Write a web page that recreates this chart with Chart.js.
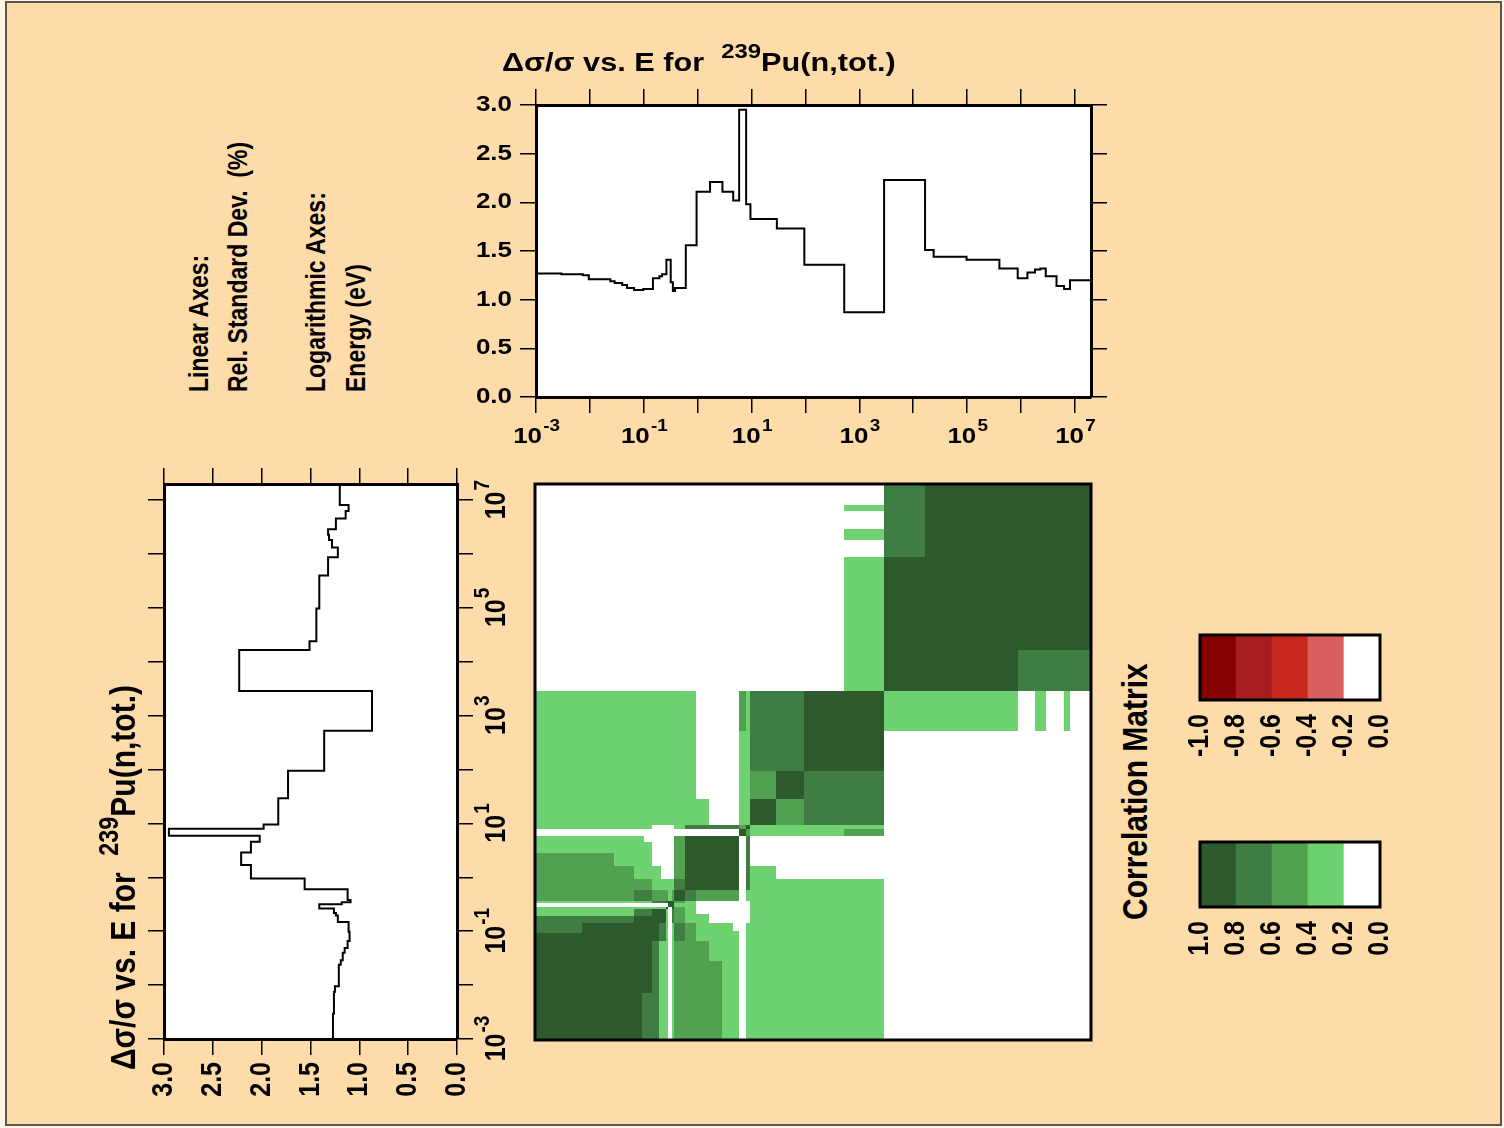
<!DOCTYPE html>
<html>
<head>
<meta charset="utf-8">
<script src="https://cdn.jsdelivr.net/npm/chart.js@4.4.1/dist/chart.umd.min.js"></script>
<style>
  html, body { margin: 0; padding: 0; }
  body { width: 1504px; height: 1128px; background: #fdf4e6; position: relative; overflow: hidden;
         font-family: "Liberation Sans", Arial, sans-serif; }
  #frame { position: absolute; left: 5px; top: 1px; width: 1493px; height: 1121px;
           border: 2px solid #5c5650; background: #fddcaa; }
  canvas { position: absolute; }
  .txt { position: absolute; white-space: nowrap; color: #000; line-height: 1; transform-origin: 0 0; }
  .sup { font-size: 0.78em; position: relative; top: -0.65em; }
</style>
</head>
<body>
<div id="frame"></div>
<canvas id="topChart" width="680" height="400" style="left:440px; top:70px;"></canvas>
<canvas id="sideChart" width="460" height="670" style="left:80px; top:450px;"></canvas>
<canvas id="corrChart" width="576" height="576" style="left:525px; top:474px;"></canvas>
<canvas id="redBar" width="220" height="150" style="left:1180px; top:625px;"></canvas>
<canvas id="greenBar" width="220" height="150" style="left:1180px; top:832px;"></canvas>
<script>
// lettering in the reference is stretched sideways
const SX = 1.18;
const FONT = '"Liberation Sans", Arial, sans-serif';

// energy group boundaries, log10(E / eV)
const groupEdgeExp = [-3.00, -2.53, -2.13, -2.02, -1.62, -1.54, -1.40, -1.31, -1.18, -1.01,
  -0.83, -0.71, -0.66, -0.58, -0.50, -0.46, -0.42, -0.22, -0.02, 0.23,
  0.46, 0.66, 0.77, 0.90, 0.98, 1.47, 1.98, 2.72, 3.46, 4.22,
  4.38, 4.99, 5.60, 5.94, 6.12, 6.26, 6.36, 6.46, 6.66, 6.80,
  6.91, 7.30];
// relative standard deviation (%) in each group
const relStdDev = [1.27, 1.26, 1.25, 1.21, 1.19, 1.17, 1.15, 1.12, 1.10, 1.11,
  1.22, 1.24, 1.26, 1.41, 1.18, 1.09, 1.12, 1.56, 2.11, 2.21,
  2.11, 2.02, 2.95, 1.98, 1.83, 1.73, 1.36, 0.87, 2.23, 1.51,
  1.44, 1.41, 1.32, 1.22, 1.28, 1.31, 1.32, 1.24, 1.14, 1.11,
  1.20];

const decadeExp = [-3, -2, -1, 0, 1, 2, 3, 4, 5, 6, 7];
const decadeLabelExp = [-3, -1, 1, 3, 5, 7];
const sdTickValues = [0, 0.5, 1.0, 1.5, 2.0, 2.5, 3.0];

// correlation blocks [xFrom, xTo, yFrom, yTo, corr] in log10(E); each is drawn with its mirror
const corrBlocks = [
  [3.46, 7.30, 3.46, 7.30, 0.9],
  [5.94, 7.30, 3.46, 4.22, 0.7],
  [3.46, 5.94, 2.72, 3.46, 0.3],
  [6.26, 6.46, 2.72, 3.46, 0.3],
  [6.80, 6.91, 2.72, 3.46, 0.3],
  [1.98, 3.46, 1.98, 3.46, 0.9],
  [1.98, 3.46, 0.98, 1.98, 0.7],
  [0.98, 1.98, 0.98, 1.98, 0.9],
  [1.47, 1.98, 0.98, 1.47, 0.5],
  [0.98, 3.46, 0.90, 0.98, 0.3],
  [0.98, 2.72, 0.77, 0.90, 0.3],
  [2.72, 3.46, 0.77, 0.90, 0.5],
  [0.90, 0.98, 0.90, 0.98, 0.9],
  [0.77, 0.90, 0.77, 0.90, 0.9],
  [0.90, 0.98, 0.77, 0.90, 0.5],
  [0.98, 3.46, -3.00, -0.02, 0.3],
  [0.98, 1.47, -0.02, 0.23, 0.3],
  [0.90, 0.98, -3.00, -0.83, 0.3],
  [0.90, 0.98, -0.42, -0.22, 0.3],
  [0.90, 0.98, -0.22, 0.77, 0.7],
  [-0.22, 0.77, -0.22, 0.77, 0.9],
  [-0.22, -0.02, -0.42, -0.22, 0.7],
  [-0.02, 0.77, -0.42, -0.22, 0.5],
  [-0.42, -0.22, -0.42, -0.22, 0.9],
  [-0.42, 0.23, -3.00, -1.16, 0.5],
  [0.23, 0.46, -3.00, -1.53, 0.5],
  [0.46, 0.77, -3.00, -0.99, 0.3],
  [0.46, 0.66, -0.99, -0.83, 0.3],
  [0.23, 0.46, -1.53, -0.83, 0.3],
  [-0.02, 0.23, -1.16, -0.66, 0.3],
  [-0.42, -0.22, -1.16, -0.83, 0.7],
  [-0.42, -0.22, -0.83, -0.42, 0.5],
  [-0.22, -0.02, -1.16, -0.83, 0.5],
  [-0.22, -0.02, -0.83, -0.42, 0.3],
  [-0.42, -0.02, -0.54, -0.46, 0.3],
  [-3.00, -0.83, -3.00, -0.83, 0.9],
  [-1.01, -0.83, -3.00, -2.13, 0.7],
  [-0.83, -0.71, -3.00, -1.16, 0.7],
  [-0.83, -0.71, -1.16, -0.83, 0.9],
  [-0.71, -0.58, -3.00, -1.16, 0.3],
  [-0.71, -0.58, -1.16, -0.71, 0.7],
  [-0.83, -0.58, -0.83, -0.58, 0.9],
  [-0.58, -0.54, -3.00, -0.58, 0.3],
  [-0.46, -0.42, -3.00, -0.83, 0.3],
  [-0.46, -0.42, -0.83, -0.46, 0.7],
  [-0.58, -0.42, -0.58, -0.42, 0.9],
  [-0.54, -0.46, -3.00, -0.54, 0.0]
];

const legendEdges = [0, 0.2, 0.4, 0.6, 0.8, 1.0];
const greenColors = ['#ffffff', '#6dd26f', '#52a150', '#407d42', '#2d5a2d'];
const redColors = ['#ffffff', '#d95e5e', '#c8271f', '#a81e1e', '#850000'];

const eMin = Math.pow(10, groupEdgeExp[0]);
const eMax = Math.pow(10, groupEdgeExp[groupEdgeExp.length - 1]);
const decadeValues = decadeExp.map(e => Math.pow(10, e));

function shade(c) {
  const i = Math.min(4, Math.floor(Math.abs(c) / 0.2 + 1e-9));
  return c < 0 ? redColors[i] : greenColors[i];
}

function stretched(ctx, x, y, rot, fn) {
  ctx.save();
  ctx.translate(x, y);
  ctx.scale(SX, 1);
  if (rot) ctx.rotate(-Math.PI / 2);
  fn();
  ctx.restore();
}

function label(ctx, str, x, y, size, align, rot) {
  stretched(ctx, x, y, rot, () => {
    ctx.font = 'bold ' + size + 'px ' + FONT;
    ctx.fillStyle = '#000';
    ctx.textAlign = align;
    ctx.textBaseline = 'middle';
    ctx.fillText(str, 0, 0);
  });
}

function powerLabel(ctx, exp, x, y, size, rot) {
  stretched(ctx, x, y, rot, () => {
    const big = 'bold ' + size + 'px ' + FONT;
    const small = 'bold ' + Math.round(size * 0.74) + 'px ' + FONT;
    ctx.font = big;
    const wb = ctx.measureText('10').width;
    ctx.font = small;
    const ws = ctx.measureText(String(exp)).width;
    const x0 = -(wb + ws) / 2;
    ctx.fillStyle = '#000';
    ctx.textAlign = 'left';
    ctx.textBaseline = 'alphabetic';
    ctx.font = big;
    ctx.fillText('10', x0, 0);
    ctx.font = small;
    ctx.fillText(String(exp), x0 + wb + 1, -size * 0.55);
  });
}

function axis(id, type, position, min, max, ticks, reverse) {
  return {
    axis: id, type: type, position: position, min: min, max: max, reverse: !!reverse, bounds: 'data',
    afterBuildTicks: s => { s.ticks = ticks.map(v => ({ value: v })); },
    ticks: { display: false },
    grid: { drawOnChartArea: false, drawTicks: true, tickLength: 16, color: '#000', lineWidth: 1.5 },
    border: { display: true, color: '#000', width: 3 }
  };
}

const whiteArea = {
  id: 'whiteArea',
  beforeDraw(chart) {
    const a = chart.chartArea, c = chart.ctx;
    c.save();
    c.fillStyle = '#fff';
    c.fillRect(a.left, a.top, a.right - a.left, a.bottom - a.top);
    c.restore();
  }
};

const baseOptions = {
  animation: false, responsive: false, events: [],
  plugins: { legend: { display: false }, tooltip: { enabled: false } }
};

// top: uncertainty vs energy
new Chart(document.getElementById('topChart'), {
  type: 'line',
  data: {
    datasets: [{
      data: groupEdgeExp.map((e, i) => ({ x: Math.pow(10, e), y: relStdDev[Math.min(i, relStdDev.length - 1)] })),
      stepped: 'before', borderColor: '#000', borderWidth: 2, pointRadius: 0, fill: false,
      xAxisID: 'x', yAxisID: 'y'
    }]
  },
  options: Object.assign({}, baseOptions, {
    layout: { padding: { left: 80, top: 19, right: 13, bottom: 57 } },
    scales: {
      x: axis('x', 'logarithmic', 'bottom', eMin, eMax, decadeValues),
      x2: axis('x', 'logarithmic', 'top', eMin, eMax, decadeValues),
      y: axis('y', 'linear', 'left', 0, 3, sdTickValues),
      y2: axis('y', 'linear', 'right', 0, 3, sdTickValues)
    }
  }),
  plugins: [whiteArea, {
    id: 'topLabels',
    afterDraw(chart) {
      const ctx = chart.ctx, a = chart.chartArea, xs = chart.scales.x, ys = chart.scales.y;
      sdTickValues.forEach(v => label(ctx, v.toFixed(1), a.left - 24, ys.getPixelForValue(v), 22, 'right', false));
      decadeLabelExp.forEach(e => powerLabel(ctx, e, xs.getPixelForValue(Math.pow(10, e)), a.bottom + 46, 22, false));
    }
  }]
});

// left: the same curve turned on its side
new Chart(document.getElementById('sideChart'), {
  type: 'line',
  data: {
    datasets: [{
      data: groupEdgeExp.map((e, i) => ({ x: relStdDev[Math.min(i, relStdDev.length - 1)], y: Math.pow(10, e) })),
      stepped: 'after', borderColor: '#000', borderWidth: 2, pointRadius: 0, fill: false,
      xAxisID: 'x', yAxisID: 'y'
    }]
  },
  options: Object.assign({}, baseOptions, {
    layout: { padding: { left: 68, top: 18, right: 67, bottom: 65 } },
    scales: {
      x: axis('x', 'linear', 'bottom', 0, 3, sdTickValues, true),
      x2: axis('x', 'linear', 'top', 0, 3, sdTickValues, true),
      y: axis('y', 'logarithmic', 'right', eMin, eMax, decadeValues),
      y2: axis('y', 'logarithmic', 'left', eMin, eMax, decadeValues)
    }
  }),
  plugins: [whiteArea, {
    id: 'sideLabels',
    afterDraw(chart) {
      const ctx = chart.ctx, a = chart.chartArea, xs = chart.scales.x, ys = chart.scales.y;
      sdTickValues.forEach(v => label(ctx, v.toFixed(1), xs.getPixelForValue(v), a.bottom + 23, 25, 'right', true));
      decadeLabelExp.forEach(e => powerLabel(ctx, e, a.right + 48, ys.getPixelForValue(Math.pow(10, e)), 25, true));
    }
  }]
});

// correlation matrix
new Chart(document.getElementById('corrChart'), {
  type: 'scatter',
  data: { datasets: [{ data: [] }] },
  options: Object.assign({}, baseOptions, {
    layout: { padding: 10 },
    scales: {
      x: { type: 'logarithmic', min: eMin, max: eMax, display: false },
      y: { type: 'logarithmic', min: eMin, max: eMax, display: false }
    }
  }),
  plugins: [{
    id: 'corrCells',
    beforeDatasetsDraw(chart) {
      const ctx = chart.ctx, a = chart.chartArea, xs = chart.scales.x, ys = chart.scales.y;
      const px = e => Math.round(xs.getPixelForValue(Math.pow(10, e)));
      const py = e => Math.round(ys.getPixelForValue(Math.pow(10, e)));
      const cell = (x0, x1, y0, y1, c) => {
        ctx.fillStyle = shade(c);
        ctx.fillRect(px(x0), py(y1), px(x1) - px(x0), py(y0) - py(y1));
      };
      ctx.save();
      ctx.fillStyle = '#fff';
      ctx.fillRect(a.left, a.top, a.right - a.left, a.bottom - a.top);
      corrBlocks.forEach(b => {
        cell(b[0], b[1], b[2], b[3], b[4]);
        cell(b[2], b[3], b[0], b[1], b[4]);
      });
      ctx.lineWidth = 3;
      ctx.strokeStyle = '#000';
      ctx.strokeRect(a.left, a.top, a.right - a.left, a.bottom - a.top);
      ctx.restore();
    }
  }]
});

// colour keys
function colorKey(id, colors, negative) {
  const sign = negative ? -1 : 1;
  new Chart(document.getElementById(id), {
    type: 'bar',
    data: {
      labels: [''],
      datasets: colors.map((c, i) => ({
        data: [[sign * legendEdges[i], sign * legendEdges[i + 1]]],
        backgroundColor: c, borderWidth: 0, grouped: false, barPercentage: 1, categoryPercentage: 1
      }))
    },
    options: Object.assign({}, baseOptions, {
      indexAxis: 'y',
      layout: { padding: { left: 20, right: 20, top: 10, bottom: 75 } },
      scales: {
        x: { type: 'linear', min: negative ? -1 : 0, max: negative ? 0 : 1, reverse: !negative, display: false },
        y: { display: false }
      }
    }),
    plugins: [{
      id: 'keyFrame',
      afterDraw(chart) {
        const ctx = chart.ctx, a = chart.chartArea, xs = chart.scales.x;
        ctx.save();
        ctx.lineWidth = 3;
        ctx.strokeStyle = '#000';
        ctx.strokeRect(a.left, a.top, a.right - a.left, a.bottom - a.top);
        ctx.restore();
        legendEdges.forEach(v => {
          const val = sign * v;
          label(ctx, (v === 0 ? 0 : val).toFixed(1), xs.getPixelForValue(val), a.bottom + 14, 25, 'right', true);
        });
      }
    }]
  });
}
colorKey('redBar', redColors, true);
colorKey('greenBar', greenColors, false);

// free text; x,y = start and baseline (rotated: baseline x and start y)
function addText(html, x, y, size, weight, rotated) {
  const d = document.createElement('div');
  d.className = 'txt';
  d.innerHTML = html;
  d.style.fontSize = size + 'px';
  d.style.fontWeight = weight;
  const drop = 0.846 * size;
  if (rotated) {
    d.style.left = (x - drop * SX) + 'px';
    d.style.top = y + 'px';
    d.style.transform = 'scaleX(' + SX + ') rotate(-90deg)';
  } else {
    d.style.left = x + 'px';
    d.style.top = (y - drop) + 'px';
    d.style.transform = 'scaleX(' + SX + ')';
  }
  document.body.appendChild(d);
}
const plotTitle = 'Δσ/σ vs. E for&nbsp; <span class="sup">239</span>Pu(n,tot.)';
addText(plotTitle, 502, 71, 26, 700, false);
addText(plotTitle, 136, 1070, 30, 700, true);
addText('Linear Axes:', 209, 392, 23, 700, true);
addText('Rel. Standard Dev.&nbsp; (%)', 248, 392, 23, 700, true);
addText('Logarithmic Axes:', 326, 392, 23, 700, true);
addText('Energy (eV)', 366, 392, 23, 700, true);
addText('Correlation Matrix', 1147, 920, 30, 700, true);
</script>
</body>
</html>
